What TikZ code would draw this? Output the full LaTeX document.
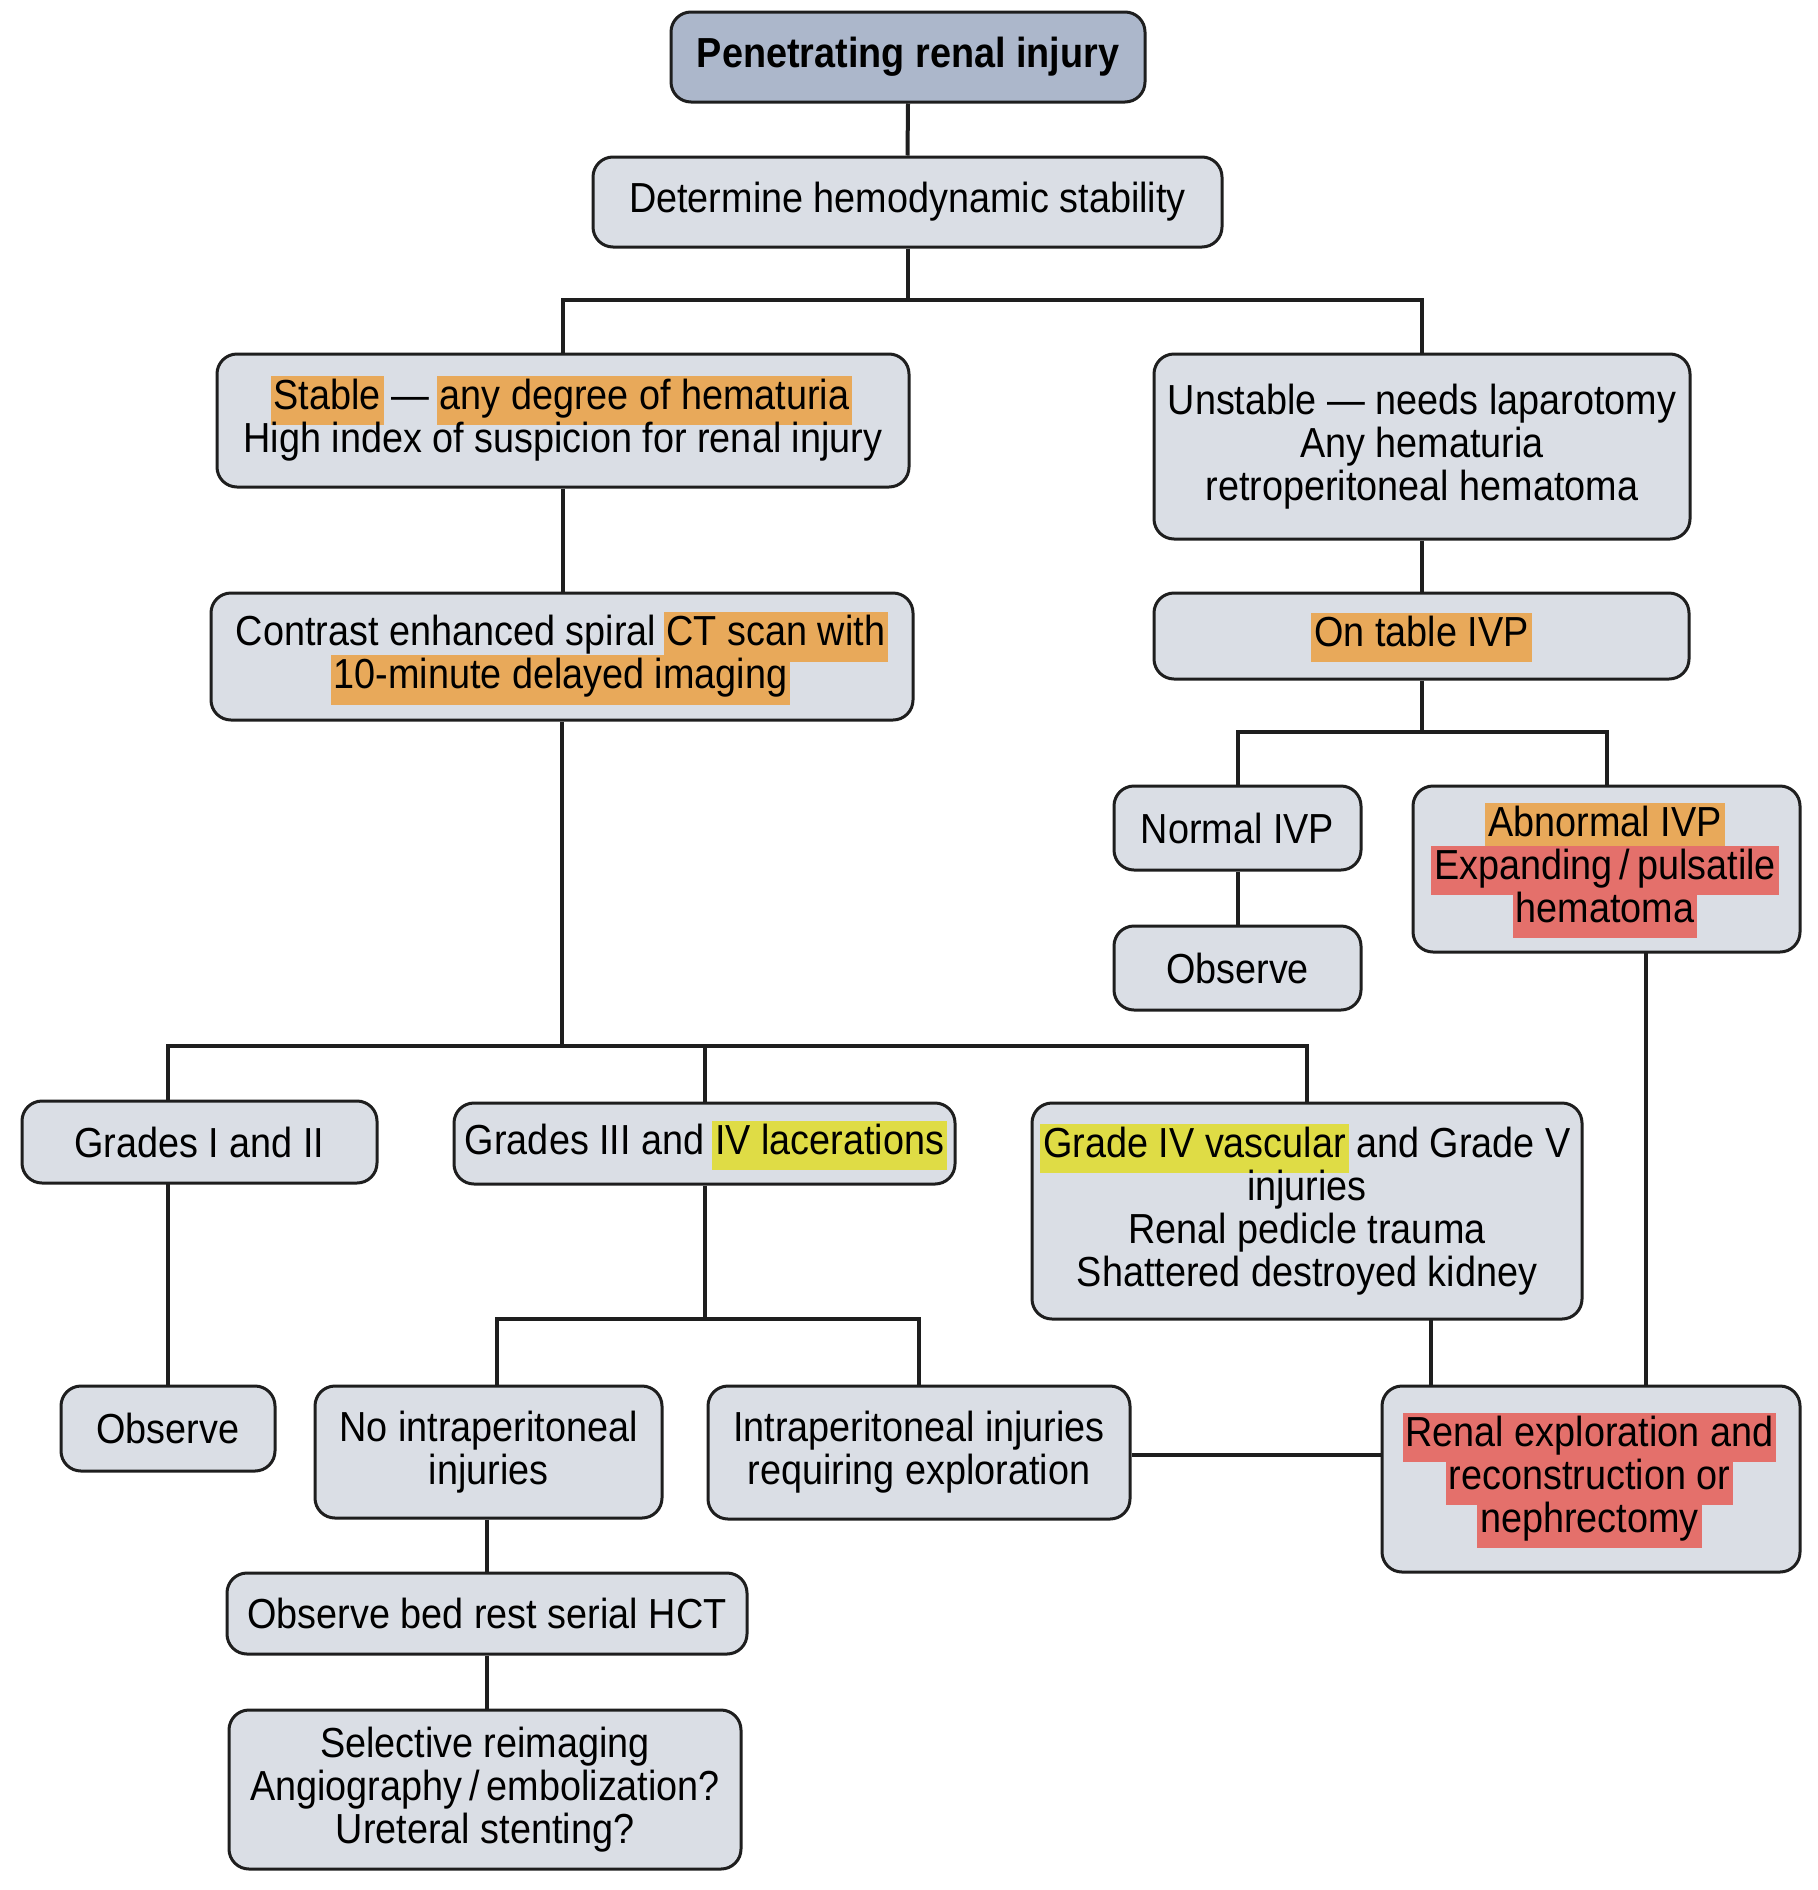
\documentclass[tikz,border=0pt]{standalone}
\usepackage{fontspec}
\setmainfont{Liberation Sans}[FakeStretch=0.9]
\definecolor{boxfill}{HTML}{DADEE5}
\definecolor{titlefill}{HTML}{ACB7CB}
\definecolor{boxline}{HTML}{1E1E1E}
\definecolor{hlorange}{HTML}{E8A95A}
\definecolor{hlred}{HTML}{E4706B}
\definecolor{hlyellow}{HTML}{DFDC45}
\newcommand\hlmark[2]{{\setlength\fboxsep{1.5pt}\hspace{-1.5pt}\smash{\colorbox{#1}{\strut #2}}\vphantom{Ag}\hspace{-1.5pt}}}
\newcommand\hlo[1]{\hlmark{hlorange}{#1}}
\newcommand\hlr[1]{\hlmark{hlred}{#1}}
\newcommand\hly[1]{\hlmark{hlyellow}{#1}}
\tikzset{
  box/.style={draw=boxline, line width=1.5pt, rounded corners=10pt, fill=boxfill,
    align=center, inner sep=0pt, font=\fontsize{21pt}{21.5pt}\selectfont},
  conn/.style={draw=boxline, line width=2pt},
}
\begin{document}
\begin{tikzpicture}[x=0.5pt,y=-0.5pt]
\fill[white] (0,0) rectangle (1818,1890);
\useasboundingbox (0,0) rectangle (1818,1890);
% nodes
\node[box, fill=titlefill, minimum width=237pt, minimum height=45pt] (title) at (908,57) {\textbf{Penetrating renal injury}};
\node[box, minimum width=314.5pt, minimum height=45pt] (det) at (907.5,202) {Determine hemodynamic stability};
\node[box, minimum width=346pt, minimum height=66.5pt] (stable) at (563,420.5) {\hlo{Stable} --- \hlo{any degree of hematuria}\\High index of suspicion for renal injury};
\node[box, minimum width=268pt, minimum height=92.5pt] (unstable) at (1422,446.5) {Unstable --- needs laparotomy\\Any hematuria\\retroperitoneal hematoma};
\node[box, minimum width=351pt, minimum height=63.5pt] (ct) at (562,656.5) {Contrast enhanced spiral \hlo{CT scan with}\\\hlo{10-minute delayed imaging}};
\node[box, minimum width=267.5pt, minimum height=43pt] (ontable) at (1421.5,636) {\hlo{On table IVP}};
\node[box, minimum width=123.5pt, minimum height=42pt] (normal) at (1237.5,828) {Normal IVP};
\node[box, minimum width=193.5pt, minimum height=83pt] (abnormal) at (1606.5,869) {\hlo{Abnormal IVP}\\\hlr{Expanding\,/\,pulsatile}\\\hlr{hematoma}};
\node[box, minimum width=123.5pt, minimum height=42pt] (observeR) at (1237.5,968) {Observe};
\node[box, minimum width=177.5pt, minimum height=41pt] (g12) at (199.5,1142) {Grades I and II};
\node[box, minimum width=250.5pt, minimum height=40.5pt] (g34) at (704.5,1143.5) {Grades III and \hly{IV lacerations}};
\node[box, minimum width=275pt, minimum height=108pt] (g45) at (1307,1211) {\hly{Grade IV vascular} and Grade V\\injuries\\Renal pedicle trauma\\Shattered destroyed kidney};
\node[box, minimum width=107pt, minimum height=42.5pt] (observeL) at (168,1428.5) {Observe};
\node[box, minimum width=173.5pt, minimum height=66pt] (nointra) at (488.5,1452) {No intraperitoneal\\injuries};
\node[box, minimum width=211pt, minimum height=66.5pt] (intra) at (919,1452.5) {Intraperitoneal injuries\\requiring exploration};
\node[box, minimum width=209pt, minimum height=93pt] (renal) at (1591,1479) {\hlr{Renal exploration and}\\\hlr{reconstruction or}\\\hlr{nephrectomy}};
\node[box, minimum width=260pt, minimum height=40.5pt] (bedrest) at (487,1613.5) {Observe bed rest serial HCT};
\node[box, minimum width=256pt, minimum height=79.5pt] (selective) at (485,1789.5) {Selective reimaging\\Angiography\,/\,embolization?\\Ureteral stenting?};
% bus points
\coordinate (busA) at (907.5,300);
\coordinate (busB) at (1421.5,732);
\coordinate (busC) at (562,1046);
\coordinate (busD) at (704.5,1319);
\coordinate (g12x) at (168,1183);
\coordinate (g12t) at (168,1101);
\coordinate (nix) at (497,1386);
\coordinate (g45x) at (1431,1319);
\coordinate (abx) at (1646,952);
% connectors
\draw[conn] (title.south) -- (det.north);
\draw[conn] (det.south) -- (busA);
\draw[conn] (stable.north) |- (busA) -| (unstable.north);
\draw[conn] (stable.south) -- (stable.south |- ct.north);
\draw[conn] (unstable.south) -- (unstable.south |- ontable.north);
\draw[conn] (ontable.south) -- (busB);
\draw[conn] (normal.north) |- (busB) -| (abnormal.north);
\draw[conn] (normal.south) -- (observeR.north);
\draw[conn] (ct.south) -- (busC);
\draw[conn] (g12t) |- (busC) -| (g45.north);
\draw[conn] (g34.north) -- (g34.north |- busC);
\draw[conn] (g12x) -- (observeL.north);
\draw[conn] (g34.south) -- (busD);
\draw[conn] (nix) |- (busD) -| (intra.north);
\draw[conn] (bedrest.north |- nointra.south) -- (bedrest.north);
\draw[conn] (bedrest.south) -- (bedrest.south |- selective.north);
\draw[conn] (intra.east |- 0,1455) -- (renal.west |- 0,1455);
\draw[conn] (g45x) -- (g45x |- renal.north);
\draw[conn] (abx) -- (abx |- renal.north);
\end{tikzpicture}
\end{document}
